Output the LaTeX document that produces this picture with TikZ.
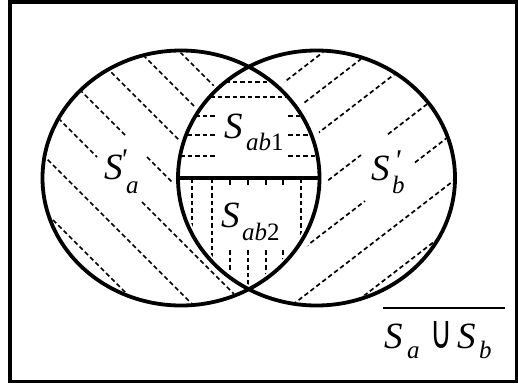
\documentclass[tikz,border=0pt]{standalone}
\usepackage{fontspec}
\setmainfont{Liberation Serif}
\IfFontExistsTF{Liberation Serif Italic}
  {\newfontfamily\itf{Liberation Serif Italic}}
  {\newfontfamily\itf{Liberation Serif}[FakeSlant=0.22]}
\newfontfamily\djv{DejaVu Sans}
\usepackage{graphicx}
\newcommand{\subsz}{\fontsize{25}{25}\selectfont}
\newcommand{\putat}[2]{\rlap{\kern#1pt #2}}
\newcommand{\primemk}{\raisebox{10pt}{\fontsize{30}{30}\selectfont\itf\textquotesingle}}
\begin{document}
\begin{tikzpicture}[x=1pt,y=-1pt,
  outline/.style={line width=3.8pt},
  hatch/.style={line width=1.7pt, dash pattern=on 4.5pt off 3pt},
  tick/.style={line width=1.7pt},
  lbl/.style={anchor=base west, inner sep=0pt, font=\fontsize{37}{37}\selectfont}]
\useasboundingbox (0,0) rectangle (518,385);

% ---- hatching of the left crescent S'_a
\begin{scope}[even odd rule]
  \clip (181,178) ellipse [x radius=136.5pt, y radius=125.5pt];
  \clip (-20,-20) rectangle (540,410)
        (316.5,178) ellipse [x radius=143.5pt, y radius=132.5pt];
  \draw[hatch] (0,-128) -- (320,192);
  \draw[hatch] (0,-88) -- (320,232);
  \draw[hatch] (0,-39) -- (320,281);
  \draw[hatch] (0,10) -- (125,135);
  \draw[hatch] (147,157) -- (320,330);
  \draw[hatch] (0,60) -- (97,157);
  \draw[hatch] (142,202) -- (320,380);
  \draw[hatch] (0,112) -- (320,432);
  \draw[hatch] (0,167) -- (320,487);
\end{scope}

% ---- hatching of the right crescent S'_b
\begin{scope}[even odd rule]
  \clip (316.5,178) ellipse [x radius=136.5pt, y radius=125.5pt];
  \clip (-20,-20) rectangle (540,410)
        (181,178) ellipse [x radius=146.5pt, y radius=135.5pt];
  \draw[hatch] (150,185.5) -- (500,-84);
  \draw[hatch] (150,221.5) -- (500,-48);
  \draw[hatch] (150,262.5) -- (500,-7);
  \draw[hatch] (150,317.5) -- (361,155);
  \draw[hatch] (388,134.2) -- (500,48);
  \draw[hatch] (150,366.5) -- (365,201);
  \draw[hatch] (415,162.5) -- (500,97);
  \draw[hatch] (150,414.5) -- (500,145);
  \draw[hatch] (150,460.5) -- (500,191);
\end{scope}

% ---- hatching of the upper lens S_ab1
\begin{scope}
  \clip (181,178) ellipse [x radius=138.5pt, y radius=127.5pt];
  \clip (316.5,178) ellipse [x radius=138.5pt, y radius=127.5pt];
  \clip (0,0) rectangle (518,178);
  \draw[hatch] (150,82) -- (350,82);
  \draw[hatch] (150,97) -- (350,97);
  \draw[hatch] (150,116) -- (215,116);
  \draw[hatch] (288,116) -- (350,116);
  \draw[hatch] (150,135) -- (215,135);
  \draw[hatch] (288,135) -- (350,135);
  \draw[hatch] (150,156) -- (215,156);
  \draw[hatch] (288,156) -- (350,156);
\end{scope}

% ---- hatching of the lower lens S_ab2
\begin{scope}
  \clip (181,178) ellipse [x radius=134.5pt, y radius=123.5pt];
  \clip (316.5,178) ellipse [x radius=134.5pt, y radius=123.5pt];
  \clip (0,178) rectangle (518,385);
  \draw[hatch] (192,178) -- (192,320);
  \draw[hatch] (212,178) -- (212,320);
  \draw[hatch] (301,178) -- (301,320);
  \foreach \xx in {230,248,266,283} {
    \draw[tick] (\xx,178) -- (\xx,185);
    \draw[hatch] (\xx,250) -- (\xx,320);
  }
\end{scope}

% ---- outlines
\draw[outline] (10,2) rectangle (516.5,381.5);
\draw[outline] (181,178) ellipse [x radius=138.5pt, y radius=127.5pt];
\draw[outline] (316.5,178) ellipse [x radius=138.5pt, y radius=127.5pt];
\coordinate (chl) at (178,178);
\coordinate (chr) at (319.5,178);
\draw[outline] (chl) -- (chr);

% ---- labels
\node[lbl] (sa) at (103,179) {\putat{1}{\itf S}\putat{17}{\primemk}\putat{23}{\raisebox{-14pt}{\subsz\itf a}}\kern36pt};
\node[lbl] (sb) at (370,180) {\putat{1}{\itf S}\putat{24}{\primemk}\putat{22}{\raisebox{-13pt}{\subsz\itf b}}\kern36pt};
\node[lbl] (sab1) at (223,138) {\putat{1}{\itf S}\putat{23}{\raisebox{-12pt}{\subsz\itf ab\rmfamily 1}}\kern60pt};
\node[lbl] (sab2) at (220,227) {\putat{1}{\itf S}\putat{22}{\raisebox{-13pt}{\subsz\itf ab\rmfamily 2}}\kern62pt};
\node[lbl] (uni) at (383,348) {\putat{0}{\raisebox{39pt}{\rule{122pt}{1.8pt}}}\putat{1}{\itf S}\putat{24}{\raisebox{-10pt}{\subsz\itf a}}\putat{47}{\resizebox{22pt}{27pt}{\djv ∪}}\putat{74}{\itf S}\putat{96}{\raisebox{-10pt}{\subsz\itf b}}\kern122pt};
\end{tikzpicture}
\end{document}
